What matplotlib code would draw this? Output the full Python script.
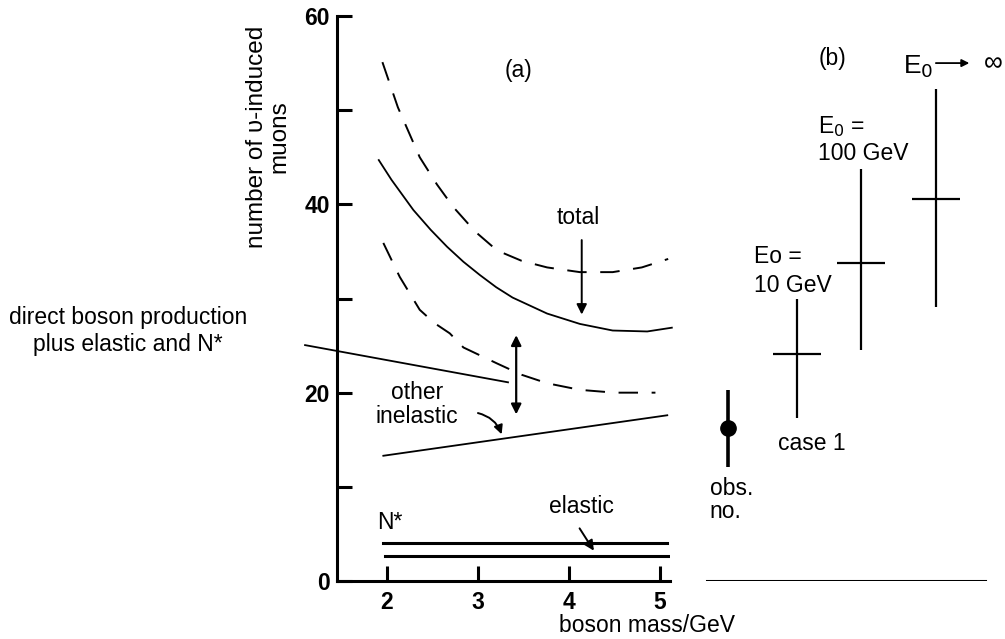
# -*- coding: utf-8 -*-
import matplotlib.pyplot as plt

plt.rcParams['font.family'] = ['Liberation Sans', 'DejaVu Sans']
plt.rcParams['font.size'] = 16.5

# --- (a) curves: boson mass (GeV) vs number of muons ---
total_x = [1.91, 2.05, 2.29, 2.48, 2.66, 2.84, 3.02, 3.20, 3.38, 3.76, 4.12, 4.48, 4.86, 5.13]
total_y = [44.7, 42.6, 39.4, 37.3, 35.5, 33.9, 32.5, 31.2, 30.1, 28.4, 27.3, 26.6, 26.5, 26.9]
upper_x = [1.95, 2.12, 2.36, 2.55, 2.73, 2.97, 3.21, 3.48, 3.76, 4.12, 4.48, 4.80, 5.09]
upper_y = [55.1, 50.3, 45.0, 42.1, 39.7, 37.1, 35.1, 34.0, 33.3, 32.8, 32.8, 33.3, 34.2]
lower_x = [1.96, 2.14, 2.36, 2.52, 2.69, 2.84, 3.21, 3.48, 3.76, 4.12, 4.50, 4.95]
lower_y = [35.9, 32.3, 28.8, 27.4, 26.3, 24.8, 23.1, 21.9, 21.0, 20.3, 20.0, 20.0]
direct_x = [1.10, 3.33]
direct_y = [25.05, 21.1]
inel_x = [1.96, 5.08]
inel_y = [13.3, 17.6]
nstar_x = [1.96, 5.08]
nstar_y = [4.03, 4.03]
elastic_x = [1.98, 5.09]
elastic_y = [2.65, 2.65]

# --- (b) predicted / observed numbers ---
b_pos = [0.93, 3.23, 5.37, 7.87]
b_val = [16.2, 24.1, 33.8, 40.6]
b_lo = [12.1, 17.3, 24.5, 29.1]
b_hi = [20.3, 30.0, 43.8, 52.2]

fig = plt.figure(figsize=(10.05, 6.39), dpi=100)
ax = fig.add_axes([337 / 1005, 58 / 639, 333 / 1005, 565 / 639])
ax.set_xlim(1.451, 5.110)
ax.set_ylim(0, 60)

ax.plot(total_x, total_y, 'k-', lw=1.3, clip_on=False)
ax.plot(upper_x, upper_y, 'k--', lw=1.4, dashes=(10, 7), clip_on=False)
ax.plot(lower_x, lower_y, 'k--', lw=1.4, dashes=(10, 7), clip_on=False)
ax.plot(direct_x, direct_y, 'k-', lw=1.3, clip_on=False)
ax.plot(inel_x, inel_y, 'k-', lw=1.3)
ax.plot(nstar_x, nstar_y, 'k-', lw=2.2)
ax.plot(elastic_x, elastic_y, 'k-', lw=2.2)

for s in ['top', 'right']:
    ax.spines[s].set_visible(False)
for s in ['left', 'bottom']:
    ax.spines[s].set_linewidth(2.2)
ax.set_xticks([2, 3, 4, 5])
ax.set_yticks([0, 10, 20, 30, 40, 50, 60])
ax.set_yticklabels(['0', '', '20', '', '40', '', '60'])
ax.tick_params(direction='in', width=2.2, length=11, labelsize=16.5)
ax.tick_params(axis='x', pad=7)
ax.tick_params(axis='y', pad=5)
for lab in ax.get_xticklabels() + ax.get_yticklabels():
    lab.set_fontweight('bold')

arr = dict(arrowstyle='-|>', color='k', lw=1.4, mutation_scale=15)
ax.annotate('', xy=(4.14, 28.0), xytext=(4.14, 36.5), arrowprops=arr)
ax.annotate('', xy=(3.42, 26.4), xytext=(3.42, 17.4),
            arrowprops=dict(arrowstyle='<|-|>', color='k', lw=1.6, mutation_scale=15))
ax.annotate('', xy=(3.27, 15.3), xytext=(2.97, 17.9),
            arrowprops=dict(arrowstyle='-|>', color='k', lw=1.4, mutation_scale=13,
                            connectionstyle='arc3,rad=-0.3'))
ax.annotate('', xy=(4.29, 2.97), xytext=(4.10, 5.84), arrowprops=arr)

ax.text(3.44, 54.2, '(a)', ha='center', va='center')
ax.text(4.10, 38.6, 'total', ha='center', va='center')
ax.text(2.33, 18.7, 'other\ninelastic', ha='center', va='center', linespacing=1.05)
ax.text(4.14, 7.96, 'elastic', ha='center', va='center')
ax.text(1.89, 6.16, 'N*', ha='left', va='center')

fig.text(647 / 1005, 1 - 625 / 639, 'boson mass/GeV', ha='center', va='center')
fig.text(268 / 1005, 1 - 137 / 639, 'number of υ-induced\nmuons', rotation=90,
         ha='center', va='center', multialignment='center', linespacing=1.0,
         fontsize=17.5)
fig.text(128 / 1005, 1 - 331 / 639, 'direct boson production\nplus elastic and N*',
         ha='center', va='center', linespacing=1.2)

# --- panel (b) ---
axb = fig.add_axes([700 / 1005, 58 / 639, 300 / 1005, 565 / 639])
axb.set_xlim(0, 10)
axb.set_ylim(0, 60)
axb.axis('off')
axb.axhline(0, xmin=0.023, xmax=0.95, color='k', lw=2.2)

axb.vlines(b_pos[:1], b_lo[:1], b_hi[:1], color='k', lw=2.6)
axb.plot(b_pos[:1], b_val[:1], 'ko', ms=11)
axb.vlines(b_pos[1:], b_lo[1:], b_hi[1:], color='k', lw=1.6)
axb.plot(b_pos[1:], b_val[1:], ls='none', marker='_', ms=34, mew=1.6, color='k')

axb.text(0.33, 8.6, 'obs.\nno.', ha='left', va='center', linespacing=0.95)
axb.text(2.6, 14.6, 'case 1', ha='left', va='center')
axb.text(1.8, 32.9, 'Eo =\n10 GeV', ha='left', va='center', linespacing=1.3)
axb.text(3.93, 46.9, 'E$_0$ =\n100 GeV', ha='left', va='center', linespacing=1.2)
axb.text(4.4, 55.5, '(b)', ha='center', va='center')
axb.text(6.77, 54.6, 'E$_0$', ha='left', va='center', fontsize=19)
axb.annotate('', xy=(9.07, 55.0), xytext=(7.77, 55.0), annotation_clip=False,
             arrowprops=dict(arrowstyle='-|>', color='k', lw=1.3, mutation_scale=11))
axb.text(9.77, 55.0, '∞', ha='center', va='center', fontsize=19)

plt.savefig('out.png', dpi=100)
